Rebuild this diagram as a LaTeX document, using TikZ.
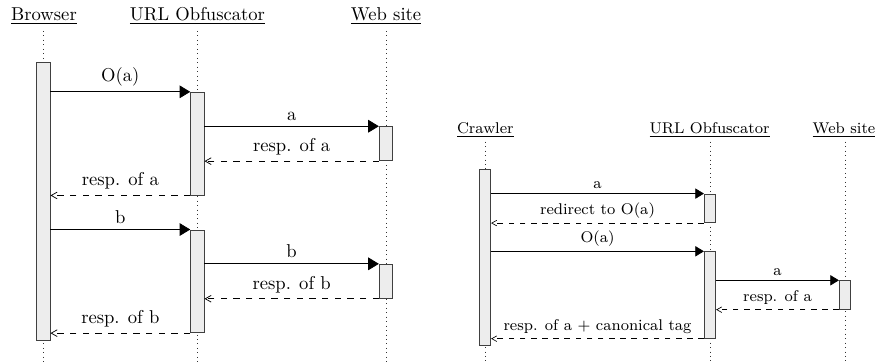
\documentclass[tikz,border=0pt]{standalone}
\usetikzlibrary{arrows.meta,fit}
\newcommand\rsize{\fontsize{8.37}{10}\selectfont}
\begin{document}
\begin{tikzpicture}[x=0.5376pt,y=-0.5376pt,
  hdr/.style={inner sep=0pt, anchor=base},
  life/.style={dotted, black!80},
  act/.style={draw=black!75, fill=black!7, inner sep=0pt, line width=0.5pt},
  call/.style={-{Triangle[length=5.7pt,width=6.8pt]}},
  ret/.style={dashed, dash pattern=on 3.4pt off 3.4pt, -{Straight Barb[length=3.2pt,width=3.6pt]}},
  lab/.style={above, inner sep=3pt},
  rcall/.style={line width=0.35pt, -{Triangle[length=4.6pt,width=5.5pt]}},
  rret/.style={line width=0.35pt, dashed, -{Straight Barb[length=2.7pt,width=3pt]}},
  rlab/.style={above, inner sep=2.5pt, font=\rsize},
  ract/.style={act, line width=0.42pt}]
\useasboundingbox (0,0) rectangle (875,364);

% ---------- left diagram ----------
\node[hdr] (hB) at (44,20.7) {\underline{Browser}};
\node[hdr] (hU) at (197.5,20.7) {\underline{URL Obfuscator}};
\node[hdr] (hW) at (386,20.7) {\underline{Web site}};
\coordinate (lBt) at (43.3,31);  \coordinate (lBb) at (43.3,364);
\coordinate (lUt) at (197.3,31); \coordinate (lUb) at (197.3,364);
\coordinate (lWt) at (386.3,31); \coordinate (lWb) at (386.3,364);
\draw[life] (lBt) -- (lBb);
\draw[life] (lUt) -- (lUb);
\draw[life] (lWt) -- (lWb);

\node[act, fit={(36.7,62.3)(50,340.7)}] (aB) {};
\node[act, fit={(190.7,92.3)(204,195)}] (aU1) {};
\node[act, fit={(379.3,126.7)(392.7,160.7)}] (aW1) {};
\node[act, fit={(190.7,230)(204,332.7)}] (aU2) {};
\node[act, fit={(379.3,264.3)(392.7,298.3)}] (aW2) {};

\draw[call] (aB.east |- aU1.north) -- node[lab]{O(a)} (aU1.north west);
\draw[call] (aU1.east |- aW1.north) -- node[lab]{a} (aW1.north west);
\draw[ret] (aW1.south west) -- node[lab]{resp. of a} (aU1.east |- aW1.south);
\draw[ret] (aU1.south west) -- node[lab]{resp. of a} (aB.east |- aU1.south);
\draw[call] (aB.east |- aU2.north) -- node[lab]{b} (aU2.north west);
\draw[call] (aU2.east |- aW2.north) -- node[lab]{b} (aW2.north west);
\draw[ret] (aW2.south west) -- node[lab]{resp. of b} (aU2.east |- aW2.south);
\draw[ret] (aU2.south west) -- node[lab]{resp. of b} (aB.east |- aU2.south);

% ---------- right diagram ----------
\node[hdr, font=\rsize] (hC) at (485.3,133.3) {\underline{Crawler}};
\node[hdr, font=\rsize] (hU2) at (709.5,133.3) {\underline{URL Obfuscator}};
\node[hdr, font=\rsize] (hW2) at (844,133.3) {\underline{Web site}};
\coordinate (lCt) at (485.7,141.7); \coordinate (lCb) at (485.7,364);
\coordinate (lU2t) at (710,141.7);  \coordinate (lU2b) at (710,364);
\coordinate (lW2t) at (845,141.7);  \coordinate (lW2b) at (845,364);
\draw[life] (lCt) -- (lCb);
\draw[life] (lU2t) -- (lU2b);
\draw[life] (lW2t) -- (lW2b);

\node[ract, fit={(479.3,169)(490.7,345)}] (cC) {};
\node[ract, fit={(704.3,194)(715.7,222.7)}] (cU1) {};
\node[ract, fit={(704.3,251.7)(715.7,338.3)}] (cU2) {};
\node[ract, fit={(839.3,280.7)(850.3,309.3)}] (cW) {};

\draw[rcall] (cC.east |- cU1.north) -- node[rlab]{a} (cU1.north west);
\draw[rret] (cU1.south west) -- node[rlab]{redirect to O(a)} (cC.east |- cU1.south);
\draw[rcall] (cC.east |- cU2.north) -- node[rlab]{O(a)} (cU2.north west);
\draw[rcall] (cU2.east |- cW.north) -- node[rlab]{a} (cW.north west);
\draw[rret] (cW.south west) -- node[rlab]{resp. of a} (cU2.east |- cW.south);
\draw[rret] (cU2.south west) -- node[rlab]{resp. of a + canonical tag} (cC.east |- cU2.south);
\end{tikzpicture}
\end{document}
